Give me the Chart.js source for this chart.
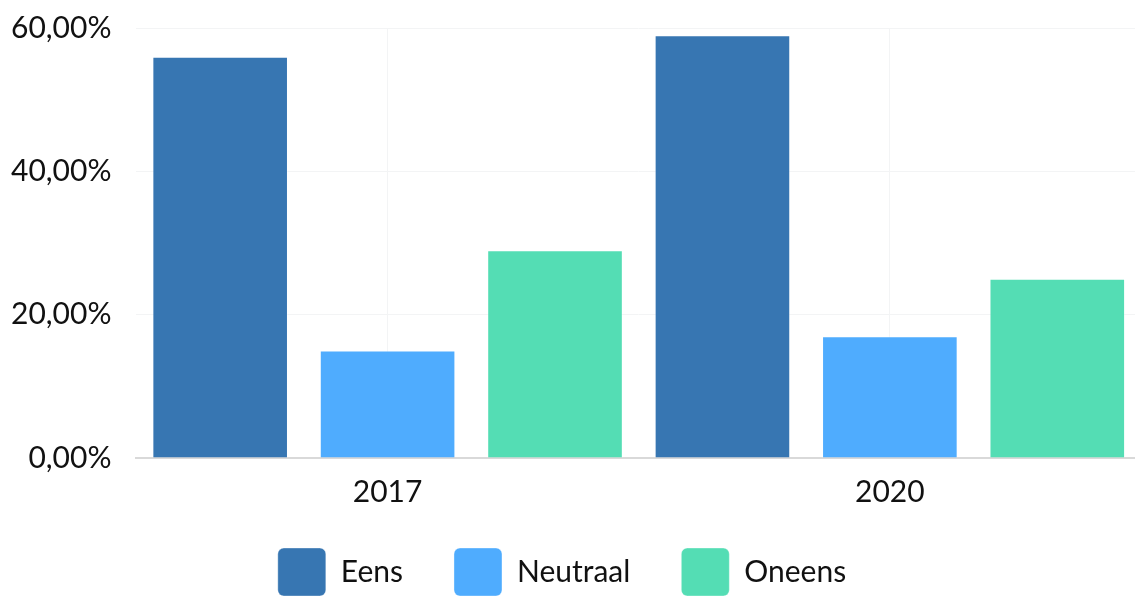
<!DOCTYPE html>
<html>
<head>
<meta charset="utf-8">
<script src="https://cdn.jsdelivr.net/npm/chart.js@4"></script>
<style>
html, body { margin:0; padding:0; background:#fff; overflow:hidden; }
#wrap { width:1141px; height:597px; position:relative; }
</style>
</head>
<body>
<div id="wrap"><canvas id="chart"></canvas></div>
<script>
var years = ['2017', '2020'];
var eens = [56, 59];
var neutraal = [15, 17];
var oneens = [29, 25];
var yTicks = [0, 20, 40, 60];

var colors = ['#3776b2', '#4facfe', '#54ddb4'];

function pct(v){
	return v.toFixed(2).replace('.', ',') + '%';
}

// legend: wide gaps between items, but it must not eat the room of the x axis
var legendFix = {
    id: 'legendFix',
    beforeLayout: function(chart){
        var lg = chart.legend;
        if (lg && !lg._fixed) {
            var fit = lg.fit;
            lg.fit = function(){ fit.call(this); this.height = 71; };
            lg._fixed = true;
        }
    },
    afterLayout: function(chart){
        var lg = chart.legend;
        lg.top = chart.height - 100;
        lg.bottom = chart.height;
        lg.left -= 9;
        lg.right -= 9;
    }
};

Chart.defaults.font.family = 'Lato';

function draw(){
var ctx = document.getElementById('chart').getContext('2d');
var chart = new Chart(ctx, {
    type: 'bar',
    data: {
        labels: years,
        datasets: [{
            label: 'Eens',
            backgroundColor: colors[0],
            borderColor: 'rgba(255,255,255,0.35)',
            borderWidth: 1,
            data: eens
        },{
            label: 'Neutraal',
            backgroundColor: colors[1],
            borderColor: 'rgba(255,255,255,0.35)',
            borderWidth: 1,
            data: neutraal
        },{
            label: 'Oneens',
            backgroundColor: colors[2],
            borderColor: 'rgba(255,255,255,0.35)',
            borderWidth: 1,
            data: oneens
        }]
    },
    options: {
        responsive: true,
        maintainAspectRatio: false,
        animation: false,
        layout: { padding: { left: 1, top: 0, right: 0, bottom: 0 } },
        datasets: { bar: { categoryPercentage: 1.0, barPercentage: 0.81 } },
        scales: {
            x: {
                grid: { offset: false, color: '#f3f4f5', drawTicks: false },
                border: { color: '#d9d9d9', width: 2 },
                ticks: { color: '#111', padding: 16, font: { family: 'Lato', size: 30 } }
            },
            y: {
                min: 0,
                max: yTicks[yTicks.length - 1],
                afterBuildTicks: function(axis){
                    axis.ticks = yTicks.map(function(v){ return { value: v }; });
                },
                grid: { color: '#f3f4f5', drawTicks: true, tickLength: 15, tickColor: 'rgba(0,0,0,0)' },
                border: { display: false },
                ticks: {
                    color: '#111',
                    padding: 10,
                    font: { family: 'Lato', size: 30 },
                    callback: function(v){ return pct(v); }
                }
            }
        },
        plugins: {
            legend: {
                position: 'bottom',
                labels: {
                    color: '#111',
                    font: { family: 'Lato', size: 30 },
                    boxWidth: 48,
                    boxHeight: 48,
                    useBorderRadius: true,
                    borderRadius: 6,
                    padding: 51
                }
            },
            tooltip: { enabled: false }
        }
    },
    plugins: [legendFix]
});
}

if (document.fonts && document.fonts.load) {
    document.fonts.load('30px Lato').then(draw, draw);
} else {
    draw();
}
</script>
</body>
</html>
